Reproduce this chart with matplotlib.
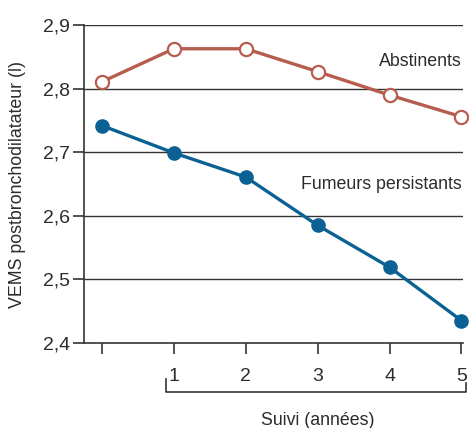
import numpy as np
import matplotlib.pyplot as plt
import matplotlib.transforms as mtransforms

plt.rcParams['font.family'] = ['Liberation Sans', 'DejaVu Sans']

# Data
years = [0, 1, 2, 3, 4, 5]
abstinents = [2.811, 2.863, 2.863, 2.827, 2.790, 2.756]
fumeurs = [2.742, 2.699, 2.661, 2.585, 2.519, 2.435]
xtick_labels = ['', '1', '2', '3', '4', '5']
yticks = [2.4, 2.5, 2.6, 2.7, 2.8, 2.9]
ytick_labels = ['2,4', '2,5', '2,6', '2,7', '2,8', '2,9']

red = '#b65d4e'
blue = '#0b6194'
txt = '#2b2b2b'

fig = plt.figure(figsize=(4.69, 4.28), dpi=100)
ax = fig.add_axes([0.179, 0.199, 0.808, 0.742])

# grid lines
for y in yticks[1:]:
    ax.axhline(y, color='#333333', lw=1.0, zorder=1)

ax.plot(years, abstinents, color=red, lw=2.4, marker='o', ms=9.5,
        mfc='white', mec=red, mew=1.6, clip_on=False, zorder=3)
ax.plot(years, fumeurs, color=blue, lw=2.4, marker='o', ms=9.5,
        mfc=blue, mec=blue, clip_on=False, zorder=3)

ax.set_xlim(-0.25, 5.02)
ax.set_ylim(2.4, 2.9)
ax.set_xticks(years)
ax.set_xticklabels(xtick_labels)
ax.set_yticks(yticks)
ax.set_yticklabels(ytick_labels)

for s in ['top', 'right']:
    ax.spines[s].set_visible(False)
for s in ['left', 'bottom']:
    ax.spines[s].set_color('#333333')
    ax.spines[s].set_linewidth(1.2)

ax.tick_params(axis='both', direction='out', length=8, width=1.2,
               color='#333333', labelsize=14, labelcolor=txt)
ax.tick_params(axis='x', pad=10)
ax.tick_params(axis='y', pad=2)

ax.set_ylabel('VEMS postbronchodilatateur (l)', fontsize=12.8, color=txt)
ax.yaxis.set_label_coords(-0.152, 0.5)

ax.text(5.0, 2.843, 'Abstinents', ha='right', va='center', fontsize=12.8,
        color=txt)
ax.text(5.0, 2.649, 'Fumeurs persistants', ha='right', va='center',
        fontsize=12.8, color=txt)

# bracket under the follow-up years
trans = mtransforms.blended_transform_factory(ax.transData, ax.transAxes)
bx0, bx1 = 0.89, 5.06
ax.plot([bx0, bx0, bx1, bx1], [-0.115, -0.155, -0.155, -0.125], color='#333333',
        lw=1.2, transform=trans, clip_on=False)
ax.text(3.0, -0.245, 'Suivi (années)', transform=trans, ha='center',
        va='center', fontsize=12.8, color=txt)

fig.savefig('out.png', dpi=100)
